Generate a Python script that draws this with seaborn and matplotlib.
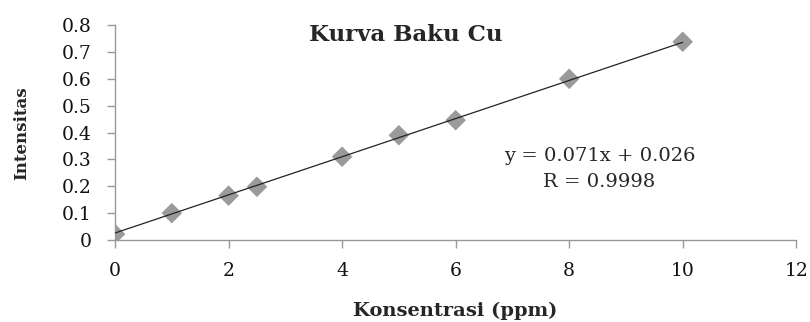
import numpy as np
import pandas as pd
import matplotlib
matplotlib.use("Agg")
import matplotlib.pyplot as plt
import seaborn as sns

konsentrasi = [0, 1, 2, 2.5, 4, 5, 6, 8, 10]
intensitas = [0.022, 0.100, 0.165, 0.198, 0.310, 0.390, 0.446, 0.600, 0.738]
slope = 0.071
intercept = 0.026
r_value = 0.9998
x_ticks = [0, 2, 4, 6, 8, 10, 12]
y_ticks = [0, 0.1, 0.2, 0.3, 0.4, 0.5, 0.6, 0.7, 0.8]

sns.set_theme(style="white")
plt.rcParams['font.family'] = ['DejaVu Serif']

df = pd.DataFrame({"x": konsentrasi, "y": intensitas})
fit_x = np.array([min(konsentrasi), max(konsentrasi)])
fit_df = pd.DataFrame({"x": fit_x, "y": slope * fit_x + intercept})

fig = plt.figure(figsize=(8.1, 3.22), dpi=100)
ax = fig.add_axes([0.142, 0.2547, 0.841, 0.6673])

sns.scatterplot(data=df, x="x", y="y", marker="D", s=110, color="#9a9a9a",
                edgecolor="none", ax=ax, zorder=2)
sns.lineplot(data=fit_df, x="x", y="y", color="#222222", linewidth=0.9, ax=ax, zorder=3)

ax.set_xlim(0, 12)
ax.set_ylim(0, 0.8)
ax.set_xticks(x_ticks)
ax.set_yticks(y_ticks)
ax.set_xticklabels([str(t) for t in x_ticks])
ax.set_yticklabels(["0"] + [f"{t:.1f}" for t in y_ticks[1:]])
ax.tick_params(axis="both", labelsize=13.5, colors="#111111", length=6, width=1,
               direction="out", bottom=True, left=True)
ax.tick_params(axis="x", color="#999999", pad=10)
ax.tick_params(axis="y", color="#999999", pad=11)

for side in ["top", "right"]:
    ax.spines[side].set_visible(False)
for side in ["left", "bottom"]:
    ax.spines[side].set_color("#999999")
    ax.spines[side].set_linewidth(1)
ax.set_facecolor("white")
ax.grid(False)

ax.set_xlabel("")
ax.set_ylabel("")
fig.text(0.562, 0.035, "Konsentrasi (ppm)", ha="center", va="center",
         fontsize=14, fontweight="bold")
fig.text(0.027, 0.585, "Intensitas", ha="center", va="center", rotation=90,
         fontsize=12, fontweight="bold")
fig.text(0.501, 0.89, "Kurva Baku Cu", ha="center", va="center",
         fontsize=16.5, fontweight="bold")
fig.text(0.74, 0.515, f"y = {slope}x + {intercept}", ha="center", va="center",
         fontsize=14)
fig.text(0.74, 0.435, f"R = {r_value}", ha="center", va="center", fontsize=14)

fig.savefig("out.png", dpi=100)
